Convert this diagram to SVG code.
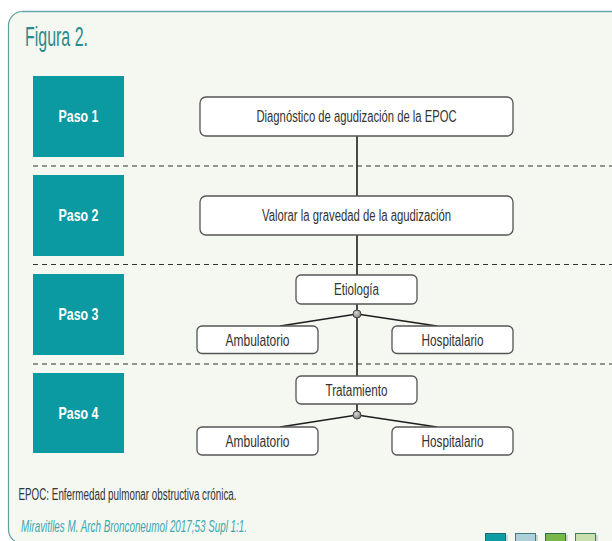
<svg xmlns="http://www.w3.org/2000/svg" width="612" height="541" viewBox="0 0 612 541">
  <defs>
    <style>
      .txt { font-family: "Liberation Sans", Arial, sans-serif; fill: #333333; }
      .node { font-size: 16px; text-anchor: middle; }
      .paso rect { fill: #0b9aa2; }
      .paso text { font-family: "Liberation Sans", Arial, sans-serif; font-weight: bold; font-size: 17px; fill: #ffffff; text-anchor: middle; }
      .box { fill: #ffffff; stroke: #555555; stroke-width: 1.3; }
      .sep { stroke: #333333; stroke-width: 1.2; stroke-dasharray: 5 4; fill: none; }
      .link { stroke: #1e1e1e; stroke-width: 1.6; fill: none; }
      .dot { fill: url(#dotGrad); stroke: #444444; stroke-width: 1; }
    </style>
    <radialGradient id="dotGrad" cx="0.4" cy="0.35" r="0.7">
      <stop offset="0" stop-color="#d8d8d8"/>
      <stop offset="1" stop-color="#7a7a7a"/>
    </radialGradient>
  </defs>

  <!-- page and panel -->
  <rect x="0" y="0" width="612" height="541" fill="#ffffff"/>
  <rect x="8.5" y="11.5" width="640" height="532" rx="14" ry="14" fill="#f5f7f1" stroke="#5e9e9e" stroke-width="1.2"/>
  <line x1="22" y1="11.5" x2="612" y2="11.5" stroke="#6aa8a8" stroke-width="1.4"/>

  <text x="25" y="46" class="txt" style="fill:#2b8a8f;font-size:28px" textLength="63" lengthAdjust="spacingAndGlyphs">Figura 2.</text>

  <!-- step separators -->
  <g id="separators">
    <line class="sep" x1="33" y1="166" x2="612" y2="166"/>
    <line class="sep" x1="33" y1="264.5" x2="612" y2="264.5"/>
    <line class="sep" x1="33" y1="364" x2="612" y2="364"/>
  </g>

  <!-- step labels -->
  <g id="paso1" class="paso">
    <rect x="33" y="76" width="91" height="81"/>
    <text x="78.5" y="122" textLength="40" lengthAdjust="spacingAndGlyphs">Paso 1</text>
  </g>
  <g id="paso2" class="paso">
    <rect x="33" y="175" width="91" height="81"/>
    <text x="78.5" y="221" textLength="40" lengthAdjust="spacingAndGlyphs">Paso 2</text>
  </g>
  <g id="paso3" class="paso">
    <rect x="33" y="274" width="91" height="81"/>
    <text x="78.5" y="320" textLength="40" lengthAdjust="spacingAndGlyphs">Paso 3</text>
  </g>
  <g id="paso4" class="paso">
    <rect x="33" y="373" width="91" height="80"/>
    <text x="78.5" y="418.5" textLength="40" lengthAdjust="spacingAndGlyphs">Paso 4</text>
  </g>

  <!-- connectors -->
  <g id="connectors">
    <line class="link" x1="357" y1="136" x2="357" y2="415"/>
    <line class="link" x1="357" y1="314" x2="280" y2="326"/>
    <line class="link" x1="357" y1="314" x2="437" y2="326"/>
    <line class="link" x1="357" y1="415" x2="280" y2="427"/>
    <line class="link" x1="357" y1="415" x2="437" y2="427"/>
  </g>

  <g id="diagnostico">
    <rect class="box" x="200" y="97" width="313" height="39" rx="6"/>
    <text class="txt node" x="356.5" y="122" textLength="200" lengthAdjust="spacingAndGlyphs">Diagnóstico de agudización de la EPOC</text>
  </g>
  <g id="valorar">
    <rect class="box" x="200" y="196" width="313" height="39" rx="6"/>
    <text class="txt node" x="356.5" y="221" textLength="189" lengthAdjust="spacingAndGlyphs">Valorar la gravedad de la agudización</text>
  </g>
  <g id="etiologia">
    <rect class="box" x="296" y="275" width="121" height="29" rx="5"/>
    <text class="txt node" x="356.5" y="295" textLength="45" lengthAdjust="spacingAndGlyphs">Etiología</text>
  </g>
  <g id="etiologia-ambulatorio">
    <rect class="box" x="197" y="326" width="121" height="27.5" rx="5"/>
    <text class="txt node" x="257.5" y="345.5" textLength="64" lengthAdjust="spacingAndGlyphs">Ambulatorio</text>
  </g>
  <g id="etiologia-hospitalario">
    <rect class="box" x="392" y="326" width="121" height="27.5" rx="5"/>
    <text class="txt node" x="452.5" y="345.5" textLength="62" lengthAdjust="spacingAndGlyphs">Hospitalario</text>
  </g>
  <g id="tratamiento">
    <rect class="box" x="296" y="376" width="121" height="28" rx="5"/>
    <text class="txt node" x="356.5" y="395.5" textLength="62" lengthAdjust="spacingAndGlyphs">Tratamiento</text>
  </g>
  <g id="tratamiento-ambulatorio">
    <rect class="box" x="197" y="427" width="121" height="28" rx="5"/>
    <text class="txt node" x="257.5" y="446.5" textLength="64" lengthAdjust="spacingAndGlyphs">Ambulatorio</text>
  </g>
  <g id="tratamiento-hospitalario">
    <rect class="box" x="392" y="427" width="121" height="28" rx="5"/>
    <text class="txt node" x="452.5" y="446.5" textLength="62" lengthAdjust="spacingAndGlyphs">Hospitalario</text>
  </g>

  <!-- branch junctions -->
  <g id="junctions">
    <circle class="dot" cx="357" cy="314" r="4"/>
    <circle class="dot" cx="357" cy="415" r="4"/>
  </g>

  <!-- footnotes -->
  <text x="18.5" y="500" class="txt" style="font-size:16px" textLength="218" lengthAdjust="spacingAndGlyphs">EPOC: Enfermedad pulmonar obstructiva crónica.</text>
  <text x="21" y="532" class="txt" style="font-size:16px;font-style:italic;fill:#3aa8b0" textLength="226" lengthAdjust="spacingAndGlyphs">Miravitlles M. Arch Bronconeumol 2017;53 Supl 1:1.</text>

  <!-- colour key squares -->
  <g id="swatches" stroke-width="1">
    <rect x="487" y="535" width="21" height="10" fill="#c9d9d4" stroke="none"/>
    <rect x="485.5" y="533.5" width="20" height="10" fill="#0e9ba4" stroke="#1c6b70"/>
    <rect x="517" y="535" width="21" height="10" fill="#c9d9d4" stroke="none"/>
    <rect x="515.5" y="533.5" width="20" height="10" fill="#aed0d8" stroke="#3f7d80"/>
    <rect x="547" y="535" width="21" height="10" fill="#c9d9d4" stroke="none"/>
    <rect x="545.5" y="533.5" width="20" height="10" fill="#7ab648" stroke="#2e6e4a"/>
    <rect x="577" y="535" width="21" height="10" fill="#c9d9d4" stroke="none"/>
    <rect x="575.5" y="533.5" width="20" height="10" fill="#c9dfad" stroke="#3f7d60"/>
  </g>
</svg>
